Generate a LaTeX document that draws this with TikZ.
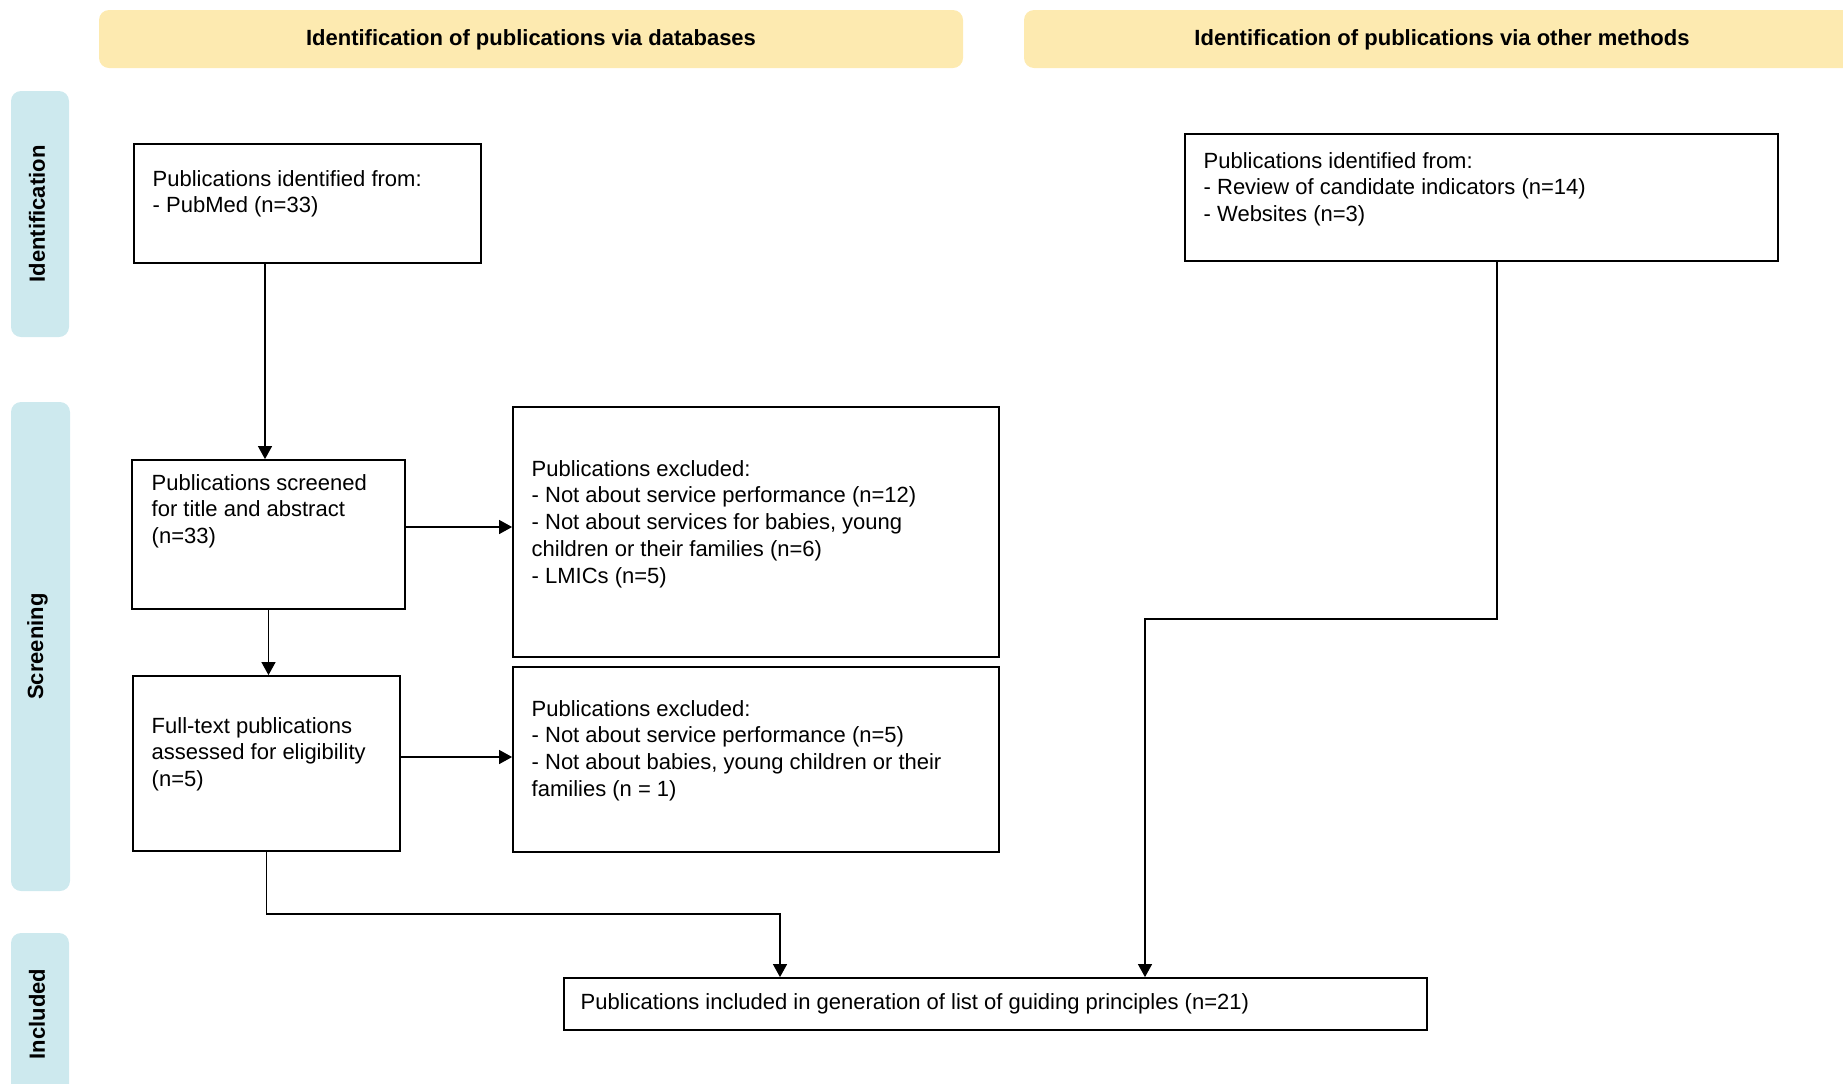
\documentclass[tikz,border=0pt]{standalone}
\usepackage{fontspec}
\setmainfont{Liberation Sans}
\usepackage{xcolor}
\usetikzlibrary{positioning,arrows.meta,fit}

\definecolor{headyellow}{RGB}{253,234,176}
\definecolor{bandblue}{RGB}{205,233,238}

\tikzset{
    pbox/.style={draw, line width=0.9pt, inner sep=0pt},
    ptext/.style={anchor=north west, inner sep=0pt, align=left, font=\fontsize{11}{13.4}\selectfont},
    header/.style={fill=headyellow, rounded corners=5pt, inner sep=0pt},
    headlabel/.style={inner sep=0pt, font=\bfseries\fontsize{11}{13}\selectfont},
    band/.style={fill=bandblue, rounded corners=5pt, inner sep=0pt},
    bandlabel/.style={rotate=90, inner sep=0pt, font=\bfseries\fontsize{11}{13}\selectfont}
}

\begin{document}
\begin{tikzpicture}[->, >={Triangle[length=6.5pt,width=7pt]}, x=0.5pt, y=-0.5pt, line width=0.6pt]

    \path[use as bounding box, clip] (0,0) rectangle (1843,1083);

    % column headers and phase bands
    \node[header, fit={(99,10) (963,68)}] (dbhead) {};
    \node[header, fit={(1024,10) (1860,68)}] (otherhead) {};
    \node[headlabel] (dblabel) at ([yshift=-0.5pt]dbhead.center) {Identification of publications via databases};
    \node[headlabel] (otherlabel) at ([yshift=-0.5pt]otherhead.center) {Identification of publications via other methods};

    \node[band, fit={(11,91) (69,337)}] (idband) {};
    \node[band, fit={(11,402) (70,891)}] (scband) {};
    \node[band, fit={(11,933) (69,1095)}] (inband) {};
    \node[bandlabel] (idlabel) at ([xshift=-1.5pt]idband.center) {Identification};
    \node[bandlabel] (sclabel) at ([xshift=-1.5pt]scband.center) {Screening};
    \node[bandlabel] (inlabel) at ([xshift=-1.5pt]inband.center) {Included};

    % boxes
    \node[pbox, fit={(134,144) (481,263)}] (pubmed) {};
    \node[pbox, fit={(1185,134) (1778,261)}] (other) {};
    \node[pbox, fit={(132,460) (405,609)}] (screened) {};
    \node[pbox, fit={(513,407) (999,657)}] (excl1) {};
    \node[pbox, fit={(133,676) (400,851)}] (fulltext) {};
    \node[pbox, fit={(513,667) (999,852)}] (excl2) {};
    \node[pbox, fit={(564,978) (1427,1030)}] (included) {};

    \node[ptext] (pubmed-t) at ([shift={(19,26.5)}]pubmed.north west)
        {Publications identified from:\\- PubMed (n=33)};
    \node[ptext] (other-t) at ([shift={(19,18.5)}]other.north west)
        {Publications identified from:\\- Review of candidate indicators (n=14)\\- Websites (n=3)};
    \node[ptext] (screened-t) at ([shift={(20,14.5)}]screened.north west)
        {Publications screened\\for title and abstract\\(n=33)};
    \node[ptext] (excl1-t) at ([shift={(19,53.5)}]excl1.north west)
        {Publications excluded:\\- Not about service performance (n=12)\\- Not about services for babies, young\\children or their families (n=6)\\- LMICs (n=5)};
    \node[ptext] (fulltext-t) at ([shift={(19,41.5)}]fulltext.north west)
        {Full-text publications\\assessed for eligibility\\(n=5)};
    \node[ptext] (excl2-t) at ([shift={(19,33.5)}]excl2.north west)
        {Publications excluded:\\- Not about service performance (n=5)\\- Not about babies, young children or their\\families (n = 1)};
    \node[ptext] (included-t) at ([shift={(17,15.5)}]included.north west)
        {Publications included in generation of list of guiding principles (n=21)};

    % helper coordinates for the connectors
    \coordinate (colA) at (265,0);
    \coordinate (colB) at (1497,0);
    \coordinate (rowC) at (0,527);
    \coordinate (rowE) at (0,757);
    \coordinate (dropL) at (780,914);
    \coordinate (dropR) at (1145,619);

    % connectors
    \draw (pubmed.south -| colA) -- (screened.north -| colA);
    \draw (screened.east |- rowC) -- (excl1.west |- rowC);
    \draw (screened.south) -- (screened.south |- fulltext.north);
    \draw (fulltext.east |- rowE) -- (excl2.west |- rowE);
    \draw (fulltext.south) |- (dropL) -- (dropL |- included.north);
    \draw (other.south -| colB) |- (dropR) -- (dropR |- included.north);

\end{tikzpicture}
\end{document}
